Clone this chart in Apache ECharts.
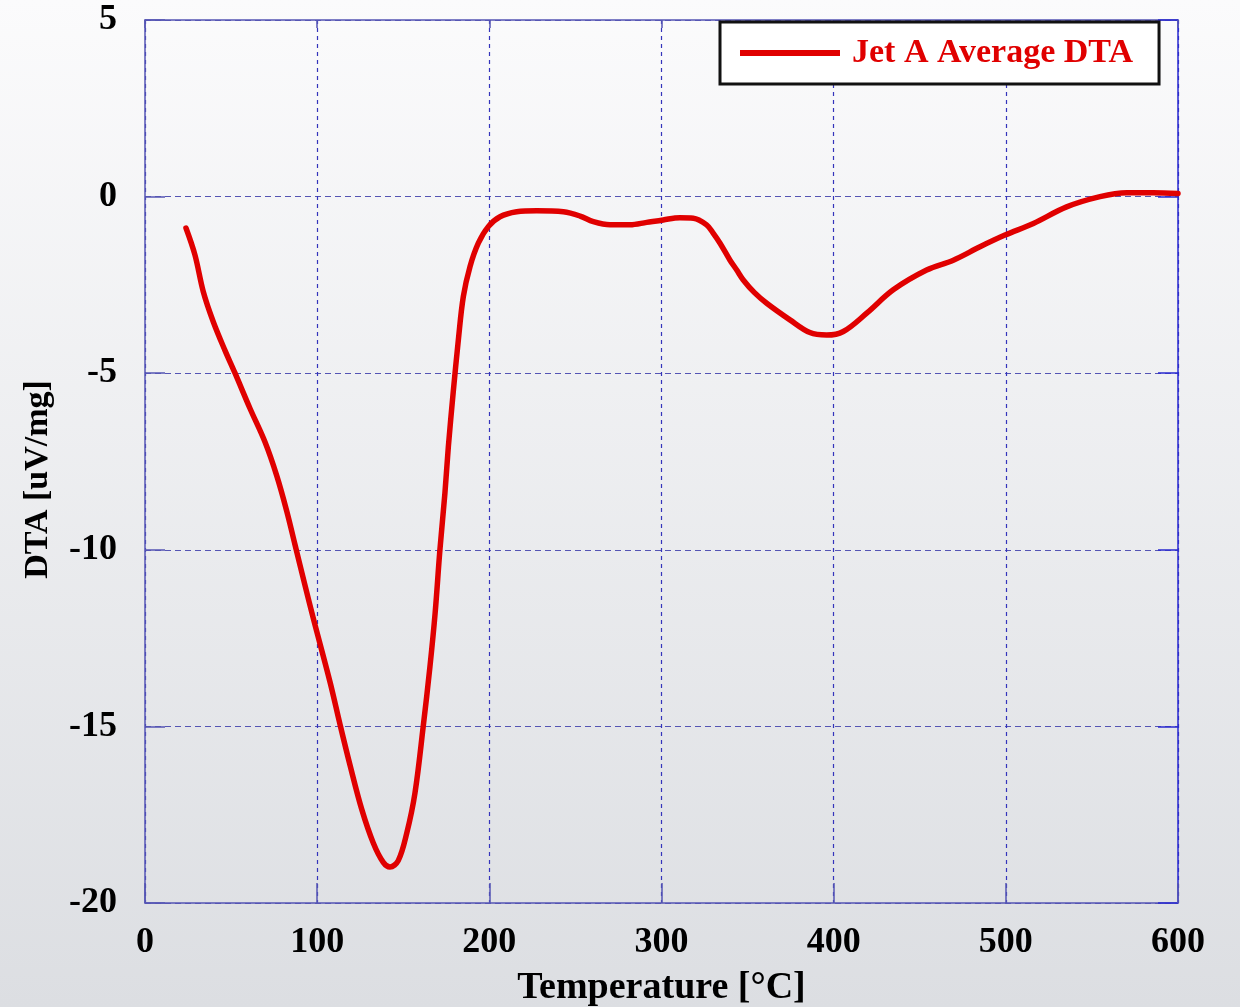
<!DOCTYPE html>
<html>
<head>
<meta charset="utf-8">
<title>Jet A Average DTA</title>
<script src="https://cdn.jsdelivr.net/npm/echarts@6/dist/echarts.min.js"></script>
<style>
  html, body { margin: 0; padding: 0; background: #eceef0; }
  #chart { width: 1240px; height: 1007px; }
</style>
</head>
<body>
<div id="chart"></div>
<script>
// Temperature sweep [°C] and averaged DTA signal [uV/mg]
const temperatures = [
  23.8, 29.0, 33.9, 39.7, 46.5, 52.3, 61.0, 69.7, 76.5, 82.3,
  87.1, 92.9, 97.8, 107.5, 113.3, 119.1, 125.9, 132.6, 138.4, 142.3,
  147.1, 152.0, 156.8, 161.6, 165.5, 168.5, 171.3, 174.2, 176.2, 179.1,
  182.0, 184.9, 188.8, 193.6, 199.4, 206.2, 215.9, 227.5, 243.0, 252.7,
  260.4, 270.1, 281.7, 291.4, 301.0, 310.7, 318.5, 326.2, 330.1, 334.0,
  339.8, 343.7, 347.5, 354.0, 361.1, 374.6, 386.2, 395.9, 405.6, 419.2,
  434.6, 454.0, 469.5, 485.0, 499.5, 516.0, 535.3, 554.7, 570.2, 585.6,
  600.0
];
const dtaValues = [
  -0.89, -1.65, -2.70, -3.55, -4.36, -5.00, -6.00, -6.95, -7.90, -8.90,
  -9.85, -11.00, -11.95, -13.75, -14.95, -16.10, -17.35, -18.30, -18.85, -18.98,
  -18.80, -18.03, -16.89, -15.00, -13.31, -11.80, -10.00, -8.40, -7.08, -5.50,
  -4.06, -2.83, -1.98, -1.32, -0.85, -0.57, -0.43, -0.40, -0.43, -0.55,
  -0.71, -0.80, -0.80, -0.73, -0.66, -0.60, -0.61, -0.80, -1.04, -1.32,
  -1.80, -2.08, -2.36, -2.72, -3.02, -3.49, -3.85, -3.92, -3.82, -3.30,
  -2.64, -2.08, -1.80, -1.42, -1.09, -0.76, -0.29, 0.00, 0.11, 0.11,
  0.09
];
const seriesName = 'Jet A Average DTA';
const xTitle = 'Temperature [°C]';
const yTitle = 'DTA [uV/mg]';

const serif = '"Liberation Serif", "Times New Roman", "DejaVu Serif", serif';
const frameColor = '#5656b4';

const points = temperatures.map((t, i) => [t, dtaValues[i]]);

const chart = echarts.init(document.getElementById('chart'), null, { renderer: 'canvas' });

const hiddenAxisBits = {
  axisLabel: { show: false },
  splitLine: { show: false }
};

chart.setOption({
  animation: false,
  backgroundColor: {
    type: 'linear', x: 0, y: 0, x2: 0, y2: 1,
    colorStops: [
      { offset: 0, color: '#fbfbfc' },
      { offset: 1, color: '#dcdee2' }
    ]
  },
  grid: {
    left: 145, right: 62, top: 20, bottom: 104,
    containLabel: false,
    outerBoundsMode: 'none'
  },
  legend: {
    left: 720,
    top: 22,
    backgroundColor: '#ffffff',
    borderColor: '#111111',
    borderWidth: 3,
    padding: [14, 26, 14, 20],
    icon: 'rect',
    itemWidth: 100,
    itemHeight: 6,
    textStyle: {
      color: '#e00000',
      fontFamily: serif,
      fontWeight: 'bold',
      fontSize: 34,
      padding: [0, 0, 0, 7]
    },
    data: [seriesName]
  },
  xAxis: [
    {
      type: 'value',
      min: 0, max: 600, interval: 100,
      position: 'bottom',
      name: xTitle,
      nameLocation: 'middle',
      nameGap: 66,
      nameTextStyle: { color: '#000', fontFamily: serif, fontWeight: 'bold', fontSize: 38 },
      axisLine: { show: true, onZero: false, lineStyle: { color: frameColor, width: 1.5 } },
      axisTick: { show: true, inside: true, length: 20, lineStyle: { color: frameColor, width: 1.5 } },
      axisLabel: { color: '#000', fontFamily: serif, fontWeight: 'bold', fontSize: 36, margin: 22 },
      splitLine: { show: true, lineStyle: { color: '#3434bc', width: 1.2, type: [4, 4] } }
    },
    Object.assign({
      type: 'value',
      min: 0, max: 600, interval: 100,
      position: 'top',
      axisLine: { show: true, onZero: false, lineStyle: { color: frameColor, width: 1.5 } },
      axisTick: { show: true, inside: true, length: 8, lineStyle: { color: frameColor, width: 1.5 } }
    }, hiddenAxisBits)
  ],
  yAxis: [
    {
      type: 'value',
      min: -20, max: 5, interval: 5,
      position: 'left',
      name: yTitle,
      nameLocation: 'middle',
      nameGap: 90,
      nameRotate: 90,
      nameTextStyle: { color: '#000', fontFamily: serif, fontWeight: 'bold', fontSize: 34, padding: [0, 36, 0, 0] },
      axisLine: { show: true, onZero: false, lineStyle: { color: frameColor, width: 1.5 } },
      axisTick: { show: true, inside: true, length: 20, lineStyle: { color: frameColor, width: 1.5 } },
      axisLabel: { color: '#000', fontFamily: serif, fontWeight: 'bold', fontSize: 36, margin: 28 },
      splitLine: { show: true, lineStyle: { color: '#5454b4', width: 1.2, type: [6, 4] } }
    },
    Object.assign({
      type: 'value',
      min: -20, max: 5, interval: 5,
      position: 'right',
      axisLine: { show: true, onZero: false, lineStyle: { color: '#2a2ad0', width: 1.5 } },
      axisTick: { show: true, inside: true, length: 20, lineStyle: { color: '#2a2ad0', width: 1.5 } }
    }, hiddenAxisBits)
  ],
  series: [
    {
      name: seriesName,
      type: 'line',
      xAxisIndex: 0,
      yAxisIndex: 0,
      data: points,
      smooth: 0.35,
      showSymbol: false,
      symbol: 'none',
      clip: true,
      lineStyle: { color: '#e00000', width: 5.5, cap: 'round', join: 'round' },
      itemStyle: { color: '#e00000' }
    }
  ]
});
</script>
</body>
</html>
